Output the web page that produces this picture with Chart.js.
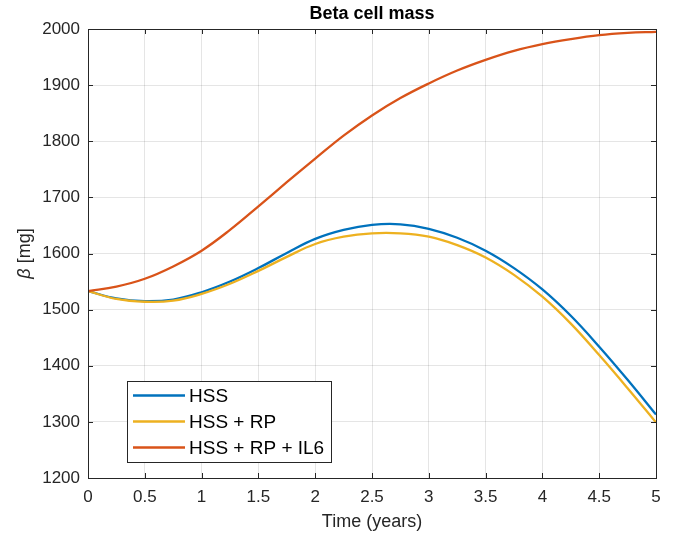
<!DOCTYPE html>
<html>
<head>
<meta charset="utf-8">
<script src="https://cdn.jsdelivr.net/npm/chart.js@4/dist/chart.umd.min.js"></script>
<style>
  html, body { margin: 0; padding: 0; background: #fff; }
  #wrap { width: 677px; height: 535px; }
</style>
</head>
<body>
<div id="wrap"><canvas id="chart"></canvas></div>
<script>
// values
const years = [0, 0.25, 0.5, 0.75, 1, 1.25, 1.5, 1.75, 2, 2.25, 2.5, 2.75, 3, 3.25, 3.5, 3.75, 4, 4.25, 4.5, 4.75, 5];
const hss =      [1533, 1520, 1515, 1518, 1531, 1550, 1574, 1601, 1626, 1642, 1651, 1652, 1644, 1628, 1605, 1574, 1536, 1489, 1434, 1375, 1313];
const hssRp =    [1533, 1519, 1514, 1516, 1528, 1546, 1569, 1594, 1617, 1630, 1636, 1636, 1630, 1615, 1593, 1562, 1523, 1475, 1419, 1360, 1299];
const hssRpIl6 = [1533, 1541, 1555, 1577, 1605, 1642, 1684, 1727, 1769, 1810, 1846, 1877, 1903, 1926, 1945, 1961, 1973, 1982, 1989, 1993, 1995];

const seriesNames = ['HSS', 'HSS + RP', 'HSS + RP + IL6'];
const seriesColors = ['#0072BD', '#EDB120', '#D95319'];

const xTicks = [0, 0.5, 1, 1.5, 2, 2.5, 3, 3.5, 4, 4.5, 5];
const yTicks = [1200, 1300, 1400, 1500, 1600, 1700, 1800, 1900, 2000];

const FONT = '"Liberation Sans", Arial, sans-serif';
const AXIS = '#262626';

const toPoints = (ys) => years.map((t, i) => ({ x: t, y: ys[i] }));

// box, inward ticks, title, y label and legend, MATLAB style
const matlabAxes = {
    id: 'matlabAxes',
    afterDraw(chart) {
        const ctx = chart.ctx;
        const a = chart.chartArea;
        const xs = chart.scales.x;
        const ys = chart.scales.y;
        ctx.save();
        ctx.strokeStyle = AXIS;
        ctx.lineWidth = 1;
        ctx.beginPath();
        xTicks.forEach(v => {
            const px = Math.round(xs.getPixelForValue(v)) + 0.5;
            ctx.moveTo(px, a.bottom); ctx.lineTo(px, a.bottom - 5);
            ctx.moveTo(px, a.top); ctx.lineTo(px, a.top + 5);
        });
        yTicks.forEach(v => {
            const py = Math.round(ys.getPixelForValue(v)) + 0.5;
            ctx.moveTo(a.left, py); ctx.lineTo(a.left + 5, py);
            ctx.moveTo(a.right, py); ctx.lineTo(a.right - 5, py);
        });
        ctx.stroke();
        ctx.strokeRect(Math.round(a.left) + 0.5, Math.round(a.top) + 0.5,
            Math.round(a.right - a.left), Math.round(a.bottom - a.top));

        // title
        ctx.fillStyle = '#000';
        ctx.font = 'bold 18px ' + FONT;
        ctx.textAlign = 'center';
        ctx.textBaseline = 'middle';
        ctx.fillText('Beta cell mass', (a.left + a.right) / 2, 14);

        // y label: italic beta + [mg]
        ctx.translate(25, (a.top + a.bottom) / 2);
        ctx.rotate(-Math.PI / 2);
        ctx.fillStyle = AXIS;
        ctx.font = 'italic 18px ' + FONT;
        const b = 'β';
        const rest = ' [mg]';
        const wb = ctx.measureText(b).width;
        ctx.font = '18px ' + FONT;
        const wr = ctx.measureText(rest).width;
        ctx.textAlign = 'left';
        ctx.font = 'italic 18px ' + FONT;
        ctx.fillText(b, -(wb + wr) / 2, 0);
        ctx.font = '18px ' + FONT;
        ctx.fillText(rest, -(wb + wr) / 2 + wb, 0);
        ctx.restore();

        // legend
        ctx.save();
        const lx = 127.5, ly = 381.5, lw = 204, lh = 81;
        ctx.fillStyle = '#fff';
        ctx.fillRect(lx, ly, lw, lh);
        ctx.strokeStyle = AXIS;
        ctx.lineWidth = 1;
        ctx.strokeRect(lx, ly, lw, lh);
        ctx.font = '19px ' + FONT;
        ctx.textAlign = 'left';
        ctx.textBaseline = 'middle';
        seriesNames.forEach((name, i) => {
            const yy = 395.5 + i * 26;
            ctx.strokeStyle = seriesColors[i];
            ctx.lineWidth = 2.3;
            ctx.beginPath();
            ctx.moveTo(133, yy); ctx.lineTo(185, yy);
            ctx.stroke();
            ctx.fillStyle = '#000';
            ctx.fillText(name, 189, yy + 1);
        });
        ctx.restore();
    }
};

const datasets = [hss, hssRp, hssRpIl6].map((ys, i) => ({
    label: seriesNames[i],
    data: toPoints(ys),
    borderColor: seriesColors[i],
    backgroundColor: seriesColors[i],
    borderWidth: 2.3,
    pointRadius: 0,
    fill: false,
    tension: 0.4,
    order: 3 - i
}));

new Chart(document.getElementById('chart'), {
    type: 'line',
    data: { datasets: datasets },
    options: {
        responsive: true,
        maintainAspectRatio: false,
        animation: false,
        layout: { padding: { left: 0, right: 21, top: 29, bottom: 0 } },
        plugins: {
            legend: { display: false },
            title: { display: false },
            tooltip: { enabled: false }
        },
        scales: {
            x: {
                type: 'linear',
                min: 0,
                max: 5,
                afterBuildTicks: s => { s.ticks = xTicks.map(v => ({ value: v })); },
                afterFit: s => { s.height = 57; },
                grid: { color: 'rgba(38,38,38,0.12)', drawTicks: false },
                border: { display: false },
                ticks: {
                    color: AXIS,
                    font: { family: FONT, size: 17 },
                    padding: 9,
                    maxRotation: 0,
                    callback: v => String(v)
                },
                title: {
                    display: true,
                    text: 'Time (years)',
                    color: AXIS,
                    font: { family: FONT, size: 18 },
                    padding: { top: 0, bottom: 2 }
                }
            },
            y: {
                min: 1200,
                max: 2000,
                afterBuildTicks: s => { s.ticks = yTicks.map(v => ({ value: v })); },
                afterFit: s => { s.width = 88; },
                grid: { color: 'rgba(38,38,38,0.12)', drawTicks: false },
                border: { display: false },
                ticks: {
                    color: AXIS,
                    font: { family: FONT, size: 17 },
                    padding: 8,
                    callback: v => String(v)
                }
            }
        }
    },
    plugins: [matlabAxes]
});
</script>
</body>
</html>
